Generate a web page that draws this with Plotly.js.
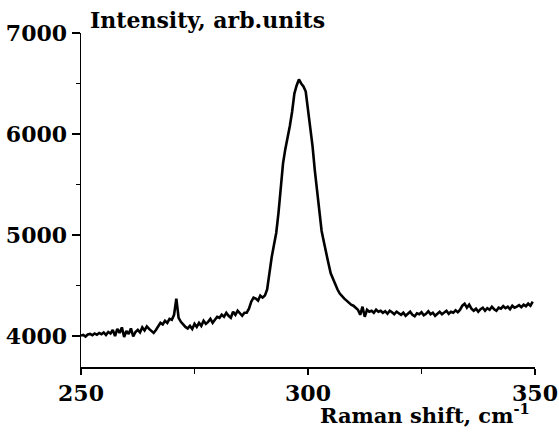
<!DOCTYPE html>
<html>
<head>
<meta charset="utf-8">
<script src="https://cdn.plot.ly/plotly-3.0.1.min.js"></script>
<style>html,body{margin:0;padding:0;background:#fff;}#chart{width:559px;height:432px;}</style>
</head>
<body>
<div id="chart"></div>
<script>
// Raman spectrum, sampled every 0.5 cm-1 starting at 250 cm-1
const X_START = 250;
const X_STEP = 0.5;
const intensity = [
  4005, 4010, 3995, 4015, 4020, 4008, 4025, 4012, 4030, 4018, 4035, 4010, 4040,
  4025, 4060, 4000, 4070, 4030, 4085, 3990, 4050, 4020, 4075, 3995, 4040,
  4060, 4035, 4085, 4055, 4095, 4070, 4050, 4030, 4060, 4100, 4130, 4115,
  4150, 4130, 4170, 4160, 4210,
  4370, 4180,
  4140, 4110, 4090, 4075, 4100, 4070, 4120,
  4090, 4130, 4100, 4150, 4120, 4140, 4170, 4130, 4160, 4190,
  4180, 4210, 4190, 4230, 4200, 4180, 4240, 4210, 4250, 4220, 4200, 4230,
  4230, 4270, 4340, 4380, 4370, 4350, 4400,
  4380, 4400, 4460, 4650, 4780, 4900, 5020, 5220, 5470, 5710,
  5850, 5950, 6080, 6220, 6400, 6480, 6540, 6500, 6470, 6420,
  6240, 6060, 5880, 5640, 5440, 5260, 5040, 4930, 4810, 4720,
  4620, 4560, 4500, 4460, 4420, 4390, 4370, 4350, 4330, 4310,
  4300, 4280, 4260,
  4210, 4290, 4190, 4260,
  4240, 4250, 4230, 4260, 4240, 4250, 4230, 4245, 4220, 4250, 4235, 4215, 4240, 4225,
  4210, 4230, 4200, 4220, 4240, 4210, 4195, 4225, 4215, 4235,
  4205, 4220, 4245, 4215, 4230, 4200, 4225, 4240, 4215, 4230,
  4250, 4220, 4240, 4230, 4255, 4235, 4260,
  4300, 4320, 4280, 4310, 4270,
  4250, 4270, 4240, 4265, 4280, 4250, 4275, 4260, 4290, 4265,
  4250, 4280, 4270, 4295, 4275, 4290, 4265, 4300, 4280, 4290,
  4305, 4285, 4310, 4295, 4320, 4300, 4340
];
const xTickVals = [250, 300, 350];
const xTickText = ['250', '300', '350'];
const yTickVals = [4000, 5000, 6000, 7000];
const yTickText = ['4000', '5000', '6000', '7000'];
const yTitle = 'Intensity, arb.units';
const xTitle = 'Raman shift, cm<sup>-1</sup>';

const FONT = 'DejaVu Serif, Liberation Serif, serif';
const W = 559, H = 432;
const M = {l: 81, r: 24, t: 33, b: 65};
const pw = W - M.l - M.r, ph = H - M.t - M.b;

const trace = {
  type: 'scatter', mode: 'lines',
  x0: X_START, dx: X_STEP, y: intensity,
  line: {color: '#000', width: 2.6},
  hoverinfo: 'skip'
};

const layout = {
  width: W, height: H,
  margin: M,
  paper_bgcolor: '#fff', plot_bgcolor: '#fff',
  showlegend: false,
  font: {family: FONT, color: '#000'},
  xaxis: {
    range: [250, 350],
    showline: true, linecolor: '#000', linewidth: 1.5,
    showgrid: false, zeroline: false,
    tickmode: 'array', tickvals: xTickVals, ticktext: xTickText,
    ticks: 'outside', ticklen: 6, tickwidth: 1.5, tickcolor: '#000',
    minor: {ticks: 'outside', ticklen: 5, tickwidth: 1.5, tickcolor: '#000', dtick: 25, tick0: 250, showgrid: false},
    tickfont: {family: FONT, size: 22, weight: 'bold', color: '#000'}
  },
  yaxis: {
    range: [3693, 7000],
    showline: true, linecolor: '#000', linewidth: 1.5,
    showgrid: false, zeroline: false,
    tickmode: 'array', tickvals: yTickVals, ticktext: yTickText,
    ticks: 'outside', ticklen: 8, tickwidth: 1.5, tickcolor: '#000',
    minor: {ticks: 'outside', ticklen: 4, tickwidth: 1.5, tickcolor: '#000', dtick: 500, tick0: 4000, showgrid: false},
    tickfont: {family: FONT, size: 22, weight: 'bold', color: '#000'}
  },
  annotations: [
    {
      text: yTitle, showarrow: false,
      xref: 'paper', yref: 'paper',
      x: (88 - M.l) / pw, xanchor: 'left',
      y: 1 + (M.t - 5) / ph, yanchor: 'top',
      font: {family: FONT, size: 22, weight: 'bold', color: '#000'}
    },
    {
      text: xTitle, showarrow: false,
      xref: 'paper', yref: 'paper',
      x: (318 - M.l) / pw, xanchor: 'left',
      y: -(398 - (H - M.b)) / ph, yanchor: 'top',
      font: {family: FONT, size: 21, weight: 'bold', color: '#000'}
    }
  ]
};

Plotly.newPlot('chart', [trace], layout, {staticPlot: true, displayModeBar: false});
</script>
</body>
</html>
